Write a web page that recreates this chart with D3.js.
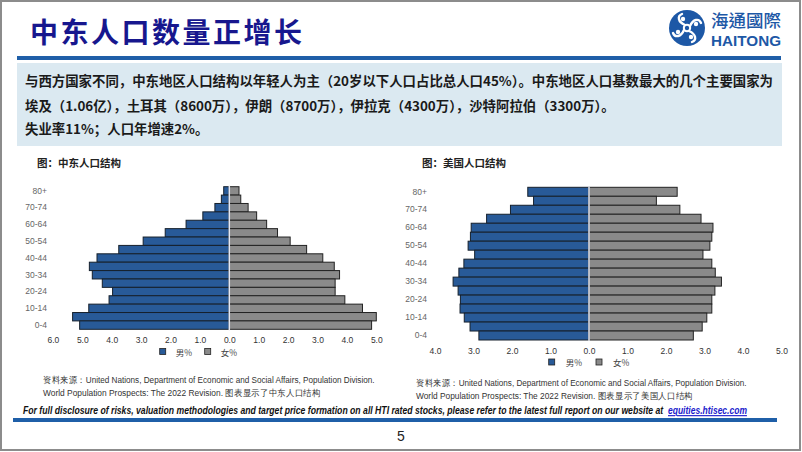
<!DOCTYPE html>
<html>
<head>
<meta charset="utf-8">
<script src="https://cdn.jsdelivr.net/npm/d3@7"></script>
<style>
  body { margin: 0; background: #fff; }
  svg { display: block; }
</style>
</head>
<body>
<svg id="page" width="802" height="452"></svg>
<script>
// age bands, top of the pyramid first
var ageGroups = ["80+", "75-79", "70-74", "65-69", "60-64", "55-59", "50-54", "45-49", "40-44",
    "35-39", "30-34", "25-29", "20-24", "15-19", "10-14", "5-9", "0-4"];
var labelledAges = ["80+", "70-74", "60-64", "50-54", "40-44", "30-34", "20-24", "10-14", "0-4"];

// Middle East, % of population
var meMale = [0.19, 0.27, 0.49, 0.90, 1.47, 2.18, 2.93, 3.76, 4.50, 4.76, 4.66, 4.32, 3.97, 4.09, 4.78, 5.33, 5.09];
var meFemale = [0.33, 0.39, 0.64, 0.93, 1.27, 1.64, 2.07, 2.63, 3.18, 3.57, 3.75, 3.60, 3.60, 3.93, 4.53, 5.00, 4.84];
// United States, % of population
var usMale = [1.59, 1.44, 2.04, 2.66, 3.06, 3.08, 3.14, 2.97, 3.25, 3.38, 3.53, 3.40, 3.34, 3.35, 3.24, 3.09, 2.86];
var usFemale = [2.29, 1.75, 2.36, 2.91, 3.22, 3.19, 3.14, 2.96, 3.19, 3.28, 3.44, 3.27, 3.19, 3.19, 3.06, 2.94, 2.71];

var meTicks = [-6, -5, -4, -3, -2, -1, 0, 1, 2, 3, 4, 5];
var usTicks = [-4, -3, -2, -1, 0, 1, 2, 3, 4, 5];
var legendLabels = ["男%", "女%"];

var headerLines = [
    "与西方国家不同，中东地区人口结构以年轻人为主（20岁以下人口占比总人口45%）。中东地区人口基数最大的几个主要国家为",
    "埃及（1.06亿），土耳其（8600万），伊朗（8700万），伊拉克（4300万），沙特阿拉伯（3300万）。",
    "失业率11%；人口年增速2%。"
];

var BLUE = "#285a98", GREY = "#8a8a8a", RULE = "#1f5fa8";
var cjk = "'Noto Sans CJK SC', 'Noto Sans', sans-serif";
var latin = "'Liberation Sans', Arial, sans-serif";

var svg = d3.select("#page");

// squeeze a text horizontally so it spans `width` px from (x, y)
function fitText(sel, x, y, width) {
    var w = sel.node().getComputedTextLength();
    sel.attr("transform", "translate(" + x + "," + y + ") scale(" + (width / w) + ",1)");
}

// page frame
svg.append("rect")
    .attr("x", 1).attr("y", 1).attr("width", 799).attr("height", 449)
    .style("fill", "none").style("stroke", "#8c8c8c").style("stroke-width", 2);

// Title
svg.append("text")
    .attr("x", 30).attr("y", 43)
    .attr("textLength", 272).attr("lengthAdjust", "spacing")
    .style("font-family", cjk).style("font-weight", 700).style("font-size", "28px")
    .style("fill", "#17178e")
    .text("中东人口数量正增长");

svg.append("rect").attr("x", 17).attr("y", 56).attr("width", 764).attr("height", 4).style("fill", RULE);

// logo
var logo = svg.append("g").attr("transform", "translate(687,28)");
logo.append("circle").attr("r", 18).style("fill", "#1d58a6");
logo.append("circle").attr("r", 3.2).style("fill", "none").style("stroke", "#fff").style("stroke-width", 2);
[0, 90, 180, 270].forEach(function (a) {
    var arm = logo.append("g").attr("transform", "rotate(" + a + ")");
    arm.append("path")
        .attr("d", "M3,-2 C6,-9 12,-10 14,-5")
        .style("fill", "none").style("stroke", "#fff").style("stroke-width", 2.4)
        .style("stroke-linecap", "round");
    arm.append("circle").attr("cx", 9).attr("cy", -4).attr("r", 2.2).style("fill", "#fff");
});
svg.append("text")
    .attr("x", 711).attr("y", 27)
    .attr("textLength", 70).attr("lengthAdjust", "spacingAndGlyphs")
    .style("font-family", "'Noto Sans CJK TC', sans-serif").style("font-weight", 500)
    .style("font-size", "17px").style("fill", "#1d58a6")
    .text("海通國際");
svg.append("text")
    .attr("x", 711).attr("y", 46)
    .attr("textLength", 70).attr("lengthAdjust", "spacingAndGlyphs")
    .style("font-family", latin).style("font-weight", 700)
    .style("font-size", "15px").style("fill", "#1d58a6")
    .text("HAITONG");

// highlighted summary box
svg.append("rect").attr("x", 17).attr("y", 63).attr("width", 765).attr("height", 83).style("fill", "#dbe9f1");
svg.selectAll("text.header")
    .data(headerLines)
    .enter().append("text")
    .attr("class", "header")
    .attr("x", 25)
    .attr("y", function (d, i) { return [86, 111, 134][i]; })
    .attr("textLength", function (d, i) { return i == 0 ? 748 : null; })
    .attr("lengthAdjust", "spacingAndGlyphs")
    .style("font-family", cjk).style("font-weight", 700).style("font-size", "13.4px")
    .style("fill", "#1a1a1a")
    .text(function (d) { return d; });

// one population pyramid
function pyramid(opt) {
    var g = svg.append("g");
    var x = d3.scaleLinear().domain(opt.domain).range(opt.xRange);
    var y = d3.scaleBand().domain(ageGroups).range(opt.yRange).paddingInner(0);

    var rows = ageGroups.map(function (a, i) { return { age: a, male: opt.male[i], female: opt.female[i] }; });

    g.append("text")
        .attr("x", opt.titleX).attr("y", 167)
        .style("font-family", cjk).style("font-weight", 700).style("font-size", "10.5px")
        .style("fill", "#222")
        .text(opt.title);

    g.selectAll("rect.male")
        .data(rows)
        .enter().append("rect")
        .attr("class", "male")
        .attr("x", function (d) { return x(-d.male); })
        .attr("y", function (d) { return y(d.age); })
        .attr("width", function (d) { return x(0) - x(-d.male); })
        .attr("height", y.bandwidth())
        .style("fill", BLUE).style("stroke", "#16202c").style("stroke-width", 1);

    g.selectAll("rect.female")
        .data(rows)
        .enter().append("rect")
        .attr("class", "female")
        .attr("x", x(0))
        .attr("y", function (d) { return y(d.age); })
        .attr("width", function (d) { return x(d.female) - x(0); })
        .attr("height", y.bandwidth())
        .style("fill", GREY).style("stroke", "#222").style("stroke-width", 1);

    // pale zero line
    g.append("line")
        .attr("x1", x(0)).attr("x2", x(0))
        .attr("y1", opt.yRange[0] - 1).attr("y2", opt.yRange[1] + 1)
        .style("stroke", "#e6e8f2").style("stroke-width", 1.5);

    var yAxis = g.append("g")
        .attr("transform", "translate(" + opt.labelX + ",0)")
        .call(d3.axisLeft(y).tickValues(labelledAges).tickSize(0).tickPadding(0));
    yAxis.select(".domain").remove();
    yAxis.selectAll("text")
        .style("font-family", latin).style("font-size", "8.5px").style("fill", "#666");

    var xAxis = g.append("g")
        .attr("transform", "translate(0," + opt.tickY + ")")
        .call(d3.axisBottom(x).tickValues(opt.ticks).tickSize(0).tickPadding(0)
            .tickFormat(function (d) { return d3.format(".1f")(Math.abs(d)); }));
    xAxis.select(".domain").remove();
    xAxis.selectAll("text")
        .attr("dy", "0.32em")
        .style("font-family", latin).style("font-size", "8.5px").style("fill", "#333");

    // legend
    var lg = g.selectAll("g.legend")
        .data(legendLabels)
        .enter().append("g")
        .attr("class", "legend")
        .attr("transform", function (d, i) { return "translate(" + opt.legend[i] + "," + opt.legendY + ")"; });
    lg.append("rect")
        .attr("x", -3).attr("y", -3).attr("width", 6).attr("height", 6)
        .style("fill", function (d, i) { return i == 0 ? BLUE : GREY; })
        .style("stroke", "#222").style("stroke-width", 0.8);
    lg.append("text")
        .attr("x", opt.legendGap).attr("dy", "0.5em")
        .style("font-family", cjk).style("font-size", "8.5px").style("fill", "#444")
        .text(function (d) { return d; });

    // source note
    opt.source.forEach(function (s, i) {
        var t = g.append("text")
            .style("font-family", latin).style("font-size", "9px").style("fill", "#333")
            .text(s);
        fitText(t, opt.sourceX, opt.sourceY + i * 13, opt.sourceW[i]);
    });
}

pyramid({
    title: "图：中东人口结构", titleX: 37,
    male: meMale, female: meFemale,
    domain: [-6, 5], xRange: [52.9, 376.3], yRange: [186.7, 329.3],
    ticks: meTicks, tickY: 340, labelX: 47,
    legend: [162.7, 207.7], legendY: 351.5, legendGap: 13,
    source: ["资料来源：United Nations, Department of Economic and Social Affairs, Population Division.",
        "World Population Prospects: The 2022 Revision. 图表显示了中东人口结构"],
    sourceX: 43, sourceY: 383, sourceW: [330, 275]
});

pyramid({
    title: "图：美国人口结构", titleX: 422,
    male: usMale, female: usFemale,
    domain: [-4, 5], xRange: [435, 781.5], yRange: [187.3, 340],
    ticks: usTicks, tickY: 351, labelX: 427,
    legend: [551.7, 599], legendY: 362, legendGap: 14,
    source: ["资料来源：United Nations, Department of Economic and Social Affairs, Population Division.",
        "World Population Prospects: The 2022 Revision. 图表显示了美国人口结构"],
    sourceX: 416, sourceY: 386, sourceW: [329, 274]
});

// disclaimer footer, link as its own text
var disc = svg.append("text")
    .style("font-family", latin).style("font-weight", 700).style("font-style", "italic")
    .style("font-size", "11px").style("fill", "#111")
    .text("For full disclosure of risks, valuation methodologies and target price formation on all HTI rated stocks, please refer to the latest full report on our website at");
fitText(disc, 23, 414, 641);
var link = svg.append("text")
    .style("font-family", latin).style("font-weight", 700).style("font-style", "italic")
    .style("font-size", "11px").style("fill", "#1a1acc").style("text-decoration", "underline")
    .text("equities.htisec.com");
fitText(link, 668, 414, 79);

svg.append("rect").attr("x", 13).attr("y", 418).attr("width", 764).attr("height", 4).style("fill", RULE);

svg.append("text")
    .attr("x", 401).attr("y", 441).attr("text-anchor", "middle")
    .style("font-family", latin).style("font-size", "14px").style("fill", "#222")
    .text("5");
</script>
</body>
</html>
